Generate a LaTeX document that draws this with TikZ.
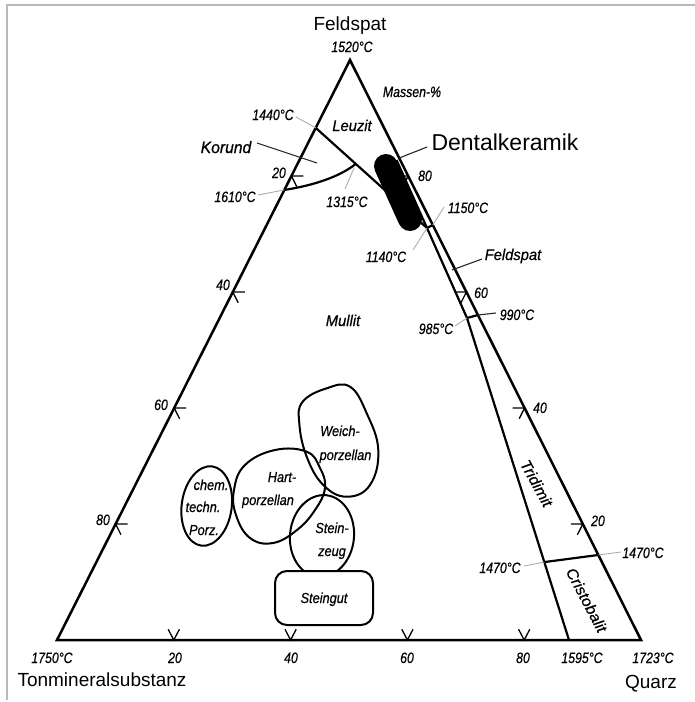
\documentclass[tikz,border=0pt]{standalone}
\usepackage{fontspec}
\setmainfont{Liberation Sans}[ItalicFeatures={FakeBold=0.6}]
\usetikzlibrary{calc}
\begin{document}
\begin{tikzpicture}[x=1pt,y=-1pt,
  edge/.style={line width=2.5pt, line join=miter},
  tk/.style={line width=1.3pt},
  bnd/.style={line width=2.2pt, line join=round},
  shp/.style={line width=2pt},
  ldr/.style={gray!65, line width=0.9pt},
  ldk/.style={black!85, line width=1.1pt},
  tmp/.style={font=\itshape\fontsize{15}{15}\selectfont, inner sep=0pt, anchor=base, xscale=0.82},
  reg/.style={font=\itshape\fontsize{15.5}{15.5}\selectfont, inner sep=0pt, anchor=base, xscale=0.95},
  sml/.style={font=\itshape\fontsize{14.5}{14.5}\selectfont, inner sep=0pt, anchor=base, xscale=0.88},
  big/.style={font=\fontsize{19}{19}\selectfont, inner sep=0pt, anchor=base}]
\useasboundingbox (0,0) rectangle (695,702);
% frame
\draw[gray!55, line width=1.8pt] (7,700) -- (7,5) -- (695,5);
% corners
\coordinate (A) at (350,60);
\coordinate (BL) at (57,640);
\coordinate (BR) at (641,640);
% ticks
\foreach \s in {0.2,0.4,0.6,0.8}{
  \draw[tk] ($(A)!\s!(BL)$) ++(12,0) -- ++(-12,0) -- ++(5.4,10.7);
  \draw[tk] ($(A)!\s!(BR)$) ++(-12,0) -- ++(12,0) -- ++(-5.4,10.7);
  \draw[tk] ($(BL)!\s!(BR)$) ++(-5.6,-10.7) -- ++(5.6,10.7) -- ++(5.6,-10.7);
}
% key points
\coordinate (P1440) at ($(A)!0.117!(BL)$);
\coordinate (P1610) at ($(A)!0.224!(BL)$);
\coordinate (P1150) at ($(A)!0.2845!(BR)$);
\coordinate (P990) at ($(A)!0.4397!(BR)$);
\coordinate (P1470R) at ($(A)!0.8534!(BR)$);
\coordinate (PDent) at ($(A)!0.169!(BR)$);
\coordinate (Ptop) at (396.5,160);
\coordinate (P1140) at (427,228);
\coordinate (P985) at (467,318);
\coordinate (P1595) at (569,640);
\coordinate (P1470L) at ($(P985)!0.758!(P1595)$);
\coordinate (P1315) at ($(P1440)!0.36!(P1140)$);
% boundaries
\draw[bnd] (P1440) -- (P1140);
\draw[bnd] (P1610) .. controls (310,186) and (338,178) .. (P1315);
\draw[bnd] (Ptop) -- (P1140) -- (P985) -- (P1595);
\draw[bnd] (P1140) -- (P1150);
\draw[bnd] (P985) -- (P990);
\draw[bnd] (P1470L) -- (P1470R);
% triangle
\draw[edge] (A) -- (BL) -- (BR) -- cycle;
% Dentalkeramik blob
\draw[line width=24pt, line cap=round] (386,166) -- (410,219);
% fields of ceramics
\draw[shp] plot[smooth cycle, tension=0.7] coordinates {(302.7,401.7) (326.7,388.3) (350,386.7) (366.7,413.3) (378.3,450) (370,485) (346.7,496.7) (323.3,485) (306.7,456.7) (299.3,423.3)};
\draw[shp] plot[smooth cycle, tension=0.7] coordinates {(306.7,451.7) (320,468) (325,488) (315,510) (297,530) (273,543) (250,538) (236,515) (234,490) (245,465) (275,450)};
\draw[shp, rotate around={-6:(322,536)}] (322,536) ellipse [x radius=32, y radius=41];
\draw[shp, rotate around={-8:(206.7,506)}] (206.7,506) ellipse [x radius=25, y radius=40];
\node[draw, fill=white, shp, rounded corners=12pt, minimum width=98pt, minimum height=54pt, inner sep=0pt] (sg) at (324,598) {};
% leaders
\draw[ldr] (296,117) -- (P1440);
\draw[ldr] (258,195) -- (P1610);
\draw[ldr, shorten >=4pt] (345,189) -- (P1315);
\draw[ldr] (444,207) -- (P1150);
\draw[ldr] (413,250) -- (P1140);
\draw[ldr] (455,326) -- (P985);
\draw[ldk] (P990) -- (496,313);
\draw[ldr] (P1470R) -- (621,552);
\draw[ldr] (524,566) -- (P1470L);
\draw[ldk] (257,143) -- (317,163);
\draw[ldk] (427,147) -- (PDent);
\draw[ldk] (482,259) -- (452,270);
% labels
\node[big] (tF) at (350,30) {Feldspat};
\node[tmp] (t1520) at (352,52) {1520°C};
\node[tmp] (tMa) at (412,97) {Massen-\%};
\node[reg] (tLe) at (352,131) {Leuzit};
\node[tmp] (t1440) at (273,120) {1440°C};
\node[reg, font=\itshape\fontsize{16.5}{16.5}\selectfont] (tKo) at (226,153) {Korund};
\node[tmp] (n20L) at (279,178) {20};
\node[tmp] (t1610) at (235,202) {1610°C};
\node[tmp] (t1315) at (347,207) {1315°C};
\node[big, font=\fontsize{23}{23}\selectfont] (tDe) at (505,150) {Dentalkeramik};
\node[tmp] (n80R) at (425,181) {80};
\node[tmp] (t1150) at (468,213) {1150°C};
\node[tmp] (t1140) at (386,262) {1140°C};
\node[reg] (tFe) at (513,260) {Feldspat};
\node[tmp] (n60R) at (481,298) {60};
\node[tmp] (t990) at (517,320) {990°C};
\node[tmp] (t985) at (436,334) {985°C};
\node[reg] (tMu) at (343,326) {Mullit};
\node[tmp] (n40L) at (223,290) {40};
\node[tmp] (n60L) at (161,410) {60};
\node[tmp] (n80L) at (103,525) {80};
\node[tmp] (n40R) at (540,413) {40};
\node[tmp] (n20R) at (598,526) {20};
\node[tmp] (t1470R) at (643,558) {1470°C};
\node[tmp] (t1470L) at (500,573) {1470°C};
\node[tmp] (t1750) at (52,663) {1750°C};
\node[tmp] (n20B) at (175,663) {20};
\node[tmp] (n40B) at (291,663) {40};
\node[tmp] (n60B) at (407,663) {60};
\node[tmp] (n80B) at (523,663) {80};
\node[tmp] (t1595) at (582,663) {1595°C};
\node[tmp] (t1723) at (653,663) {1723°C};
\node[big] (tTo) at (102,686) {Tonmineralsubstanz};
\node[big] (tQu) at (651,688) {Quarz};
\node[reg, anchor=center, rotate=-60, font=\itshape\fontsize{16}{16}\selectfont] (tTr) at (536.7,483.3) {Tridimit};
\node[reg, anchor=center, rotate=-61, font=\itshape\fontsize{16}{16}\selectfont] (tCr) at (586.7,600) {Cristobalit};
\node[sml] (tW1) at (340,436) {Weich-};
\node[sml] (tW2) at (345.5,460) {porzellan};
\node[sml] (tH1) at (282,482) {Hart-};
\node[sml] (tH2) at (268,505) {porzellan};
\node[sml] (tC1) at (211,490) {chem.};
\node[sml] (tC2) at (203,512) {techn.};
\node[sml] (tC3) at (204,535) {Porz.};
\node[sml] (tS1) at (332,533) {Stein-};
\node[sml] (tS2) at (332,556) {zeug};
\node[sml] (tSg) at (324,603) {Steingut};
\end{tikzpicture}
\end{document}
